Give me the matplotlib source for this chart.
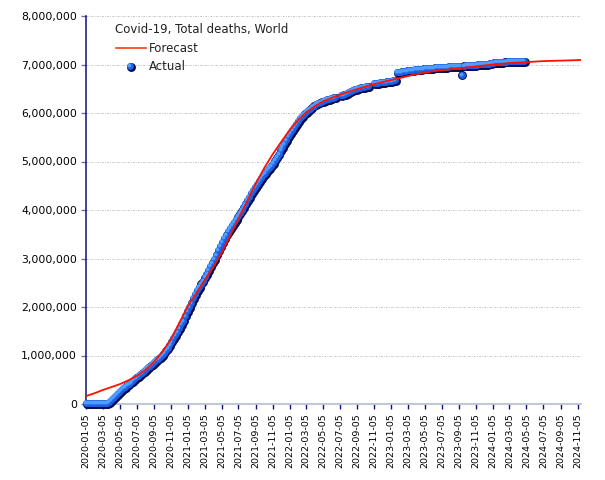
import matplotlib
matplotlib.use("Agg")
import matplotlib.pyplot as plt
import matplotlib.dates as mdates
import matplotlib.ticker as mtick
from matplotlib.transforms import offset_copy
from matplotlib.lines import Line2D
import numpy as np
import pandas as pd

NAN = np.nan

# weekly actual totals (thousands), first week 2020-01-05
actual_2020 = [0, 0, 0, 0, 0, 1, 2, 2, 3, 4, 6, 15, 33, 68, 112, 160, 200,
               240, 278, 310, 342, 372, 402, 432, 465, 500, 535, 568, 602,
               637, 672, 708, 744, 780, 816, 852, 888, 924, 960, 1000, 1045,
               1095, 1150, 1210, 1275, 1340, 1410, 1480, 1555, 1630, 1710, 1810]
actual_2021 = [1900, 1990, 2080, 2170, 2255, 2335, 2405, 2470, 2530, 2600,
               2670, 2745, 2825, 2905, 2985, 3070, 3155, 3240, 3325, 3405,
               3480, 3550, 3615, 3680, 3740, 3800, 3860, 3920, 3985, 4050,
               4120, 4190, 4260, 4330, 4400, 4465, 4530, 4590, 4650, 4705,
               4755, 4805, 4855, 4905, 4960, 5020, 5085, 5150, 5220, 5290,
               5360, 5435]
actual_2022 = [5505, 5570, 5635, 5700, 5765, 5825, 5880, 5930, 5975, 6015,
               6050, 6080, 6110, 6140, 6165, 6185, 6205, 6225, 6240, 6255,
               6268, 6280, 6292, 6305, 6318, NAN, NAN, 6350, 6368, 6386, 6404,
               6422, 6440, 6458, 6474, 6488, 6500, 6511, 6521, 6530, 6538,
               6546, NAN, NAN, 6598, 6605, 6612, 6618, 6624, 6630, 6636, 6642]
actual_2023 = [6648, 6655, 6662, 6670, 6825, 6835, 6843, 6851, 6858, 6865,
               6871, 6877, 6882, 6887, 6891, 6895, 6899, 6903, 6907, 6911,
               6915, 6919, 6922, 6925, 6928, 6931, 6934, 6937, 6940, 6943,
               6946, 6949, 6952, 6955, 6958, 6961, 6964, 6780, 6967, 6970,
               6973, 6976, 6979, 6982, 6985, 6988, 6991, 6994, 6997, 7000,
               7003, 7006, 7025]
actual_2024 = [7028, 7032, 7036, 7039, 7042, 7045, 7048, 7050, 7052, 7054,
               7056, 7058, 7060, 7061, 7062, 7063, 7064]
actual = np.array(actual_2020 + actual_2021 + actual_2022 + actual_2023 + actual_2024) * 1000
actual_dates = pd.date_range("2020-01-05", periods=len(actual), freq="7D")

# forecast (thousands), on the 5th of each month from 2020-01 to 2024-11
forecast = [165, 225, 290, 350, 410, 490, 580, 700, 870, 1080, 1340, 1680,
            2030, 2300, 2550, 2820, 3110, 3470, 3820, 4180, 4540, 4860, 5150, 5400,
            5650, 5860, 6010, 6140, 6240, 6310, 6375, 6435, 6495, 6545, 6595, 6638,
            6680, 6720, 6760, 6800, 6830, 6860, 6880, 6900, 6920, 6940, 6960, 6980,
            7000, 7015, 7030, 7040, 7050, 7060, 7070, 7075, 7080, 7085, 7090, 7095]
forecast = np.array(forecast) * 1000
forecast_dates = list(pd.date_range("2020-01-01", periods=len(forecast) - 1, freq="MS")
                      + pd.Timedelta(days=4)) + [pd.Timestamp("2024-11-17")]

tick_dates = pd.date_range("2020-01-01", "2024-11-01", freq="2MS") + pd.Timedelta(days=4)

NAVY = "#10107a"

fig = plt.figure(figsize=(6.05, 4.8), dpi=100)
ax = fig.add_axes([86 / 605, 76 / 480, 495 / 605, 388 / 480])

ax.plot(forecast_dates, forecast, color="#ff1000", linewidth=1.3, zorder=4)

# actual points drawn as little shaded spheres
sphere = [(6.4, "#040c50", 0.2, -0.2), (5.0, "#1d5fe4", -0.4, 0.4),
          (2.8, "#4f9eff", -1.1, 1.1)]
for ms, col, dx, dy in sphere:
    tr = offset_copy(ax.transData, fig=fig, x=dx, y=dy, units="points")
    ax.plot(actual_dates, actual, "o", ms=ms, color=col, mec="none",
            transform=tr, zorder=3, clip_on=False)

ax.set_ylim(0, 8_000_000)
ax.set_xlim(pd.Timestamp("2020-01-04"), pd.Timestamp("2024-11-17"))
ax.yaxis.set_major_locator(mtick.MultipleLocator(1_000_000))
ax.yaxis.set_major_formatter(mtick.FuncFormatter(lambda v, _: f"{v:,.0f}"))
ax.set_xticks(tick_dates)
ax.xaxis.set_major_formatter(mdates.DateFormatter("%Y-%m-%d"))
plt.setp(ax.get_xticklabels(), rotation=90, ha="center", fontsize=6.8)
plt.setp(ax.get_yticklabels(), fontsize=7.8)
ax.tick_params(axis="x", length=3.5, width=1, color=NAVY, pad=3)
ax.tick_params(axis="y", length=3.5, width=1, color="#7070a8", pad=3)

ax.grid(axis="y", color="#b8b8b8", linestyle=(0, (2.2, 1.6, 0.8, 1.6)), linewidth=0.6)
ax.set_axisbelow(True)
for side in ("top", "right"):
    ax.spines[side].set_visible(False)
ax.spines["left"].set_color(NAVY)
ax.spines["left"].set_linewidth(1.1)
ax.spines["bottom"].set_color("#b4bcd4")
ax.spines["bottom"].set_linewidth(1.2)

# legend drawn by hand, like the original
ta = ax.transAxes
ax.text(0.058, 0.964, "Covid-19, Total deaths, World", transform=ta,
        fontsize=8.5, va="center", ha="left", color="#222222")
ax.add_line(Line2D([0.0606, 0.1212], [0.9175, 0.9175], transform=ta,
                   color="#ff3a10", linewidth=1.2))
ax.text(0.127, 0.9175, "Forecast", transform=ta, fontsize=8.5,
        va="center", ha="left", color="#222222")
for ms, col, dx, dy in sphere:
    tr = offset_copy(ta, fig=fig, x=dx, y=dy, units="points")
    ax.plot([0.0909], [0.8686], "o", ms=ms, color=col, mec="none",
            transform=tr, clip_on=False)
ax.text(0.127, 0.8686, "Actual", transform=ta, fontsize=8.5,
        va="center", ha="left", color="#222222")

fig.savefig("out.png", dpi=100)
